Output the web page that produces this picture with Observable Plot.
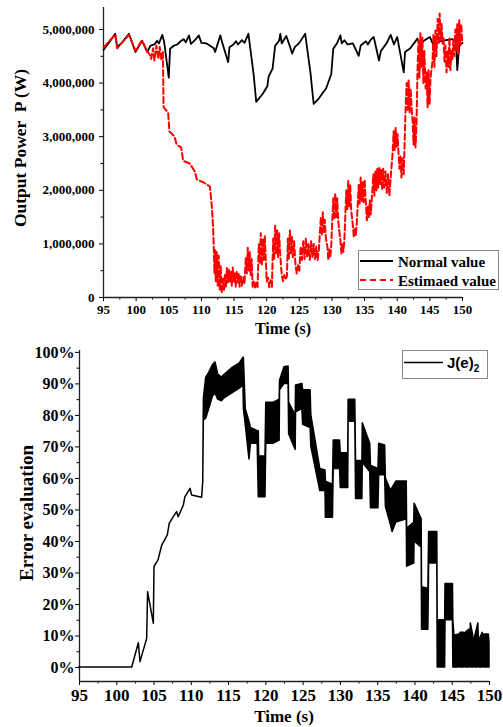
<!DOCTYPE html>
<html><head><meta charset="utf-8">
<script src="https://cdn.jsdelivr.net/npm/d3@7"></script>
<script src="https://cdn.jsdelivr.net/npm/@observablehq/plot@0.6"></script>
<style>
body{margin:0;background:#fff;width:503px;height:727px;overflow:hidden}
#chart svg{display:block}
</style></head><body><div id="chart"></div>
<script>
// ---- Top panel: output power (values in MW) ----
const normalT = [95.0,95.8,96.8,97.1,97.8,98.9,99.9,100.9,101.7,102.2,102.8,103.2,103.5,104.0,104.3,105.0,105.2,105.8,106.3,106.8,107.3,107.6,108.1,108.4,109.0,109.6,110.0,110.8,111.9,112.1,112.9,113.2,113.7,114.1,114.3,114.9,115.3,115.6,116.2,116.6,117.2,118.0,118.4,119.4,120.1,120.3,120.9,121.3,121.9,122.1,122.3,123.0,123.6,123.9,124.3,125.0,125.9,126.7,127.2,127.9,128.6,129.1,129.9,130.2,130.8,131.3,131.5,131.9,132.4,133.2,134.1,134.4,135.2,135.5,135.9,136.4,137.2,137.5,138.4,139.0,139.5,140.0,141.0,141.2,142.0,143.1,143.5,144.2,145.0,145.5,146.5,147.5,148.5,149.0,149.2,149.5,150.0];
const normalP = [4.62,4.75,4.92,4.67,4.75,4.92,4.58,4.79,4.58,4.7,4.72,4.79,4.74,4.9,4.76,4.1,4.64,4.7,4.72,4.78,4.82,4.76,4.89,4.73,4.8,4.89,4.75,4.74,4.65,4.58,4.89,4.75,4.55,4.39,4.67,4.72,4.78,4.72,4.8,4.75,4.92,4.16,3.65,3.8,3.94,4.12,4.27,4.7,4.79,4.92,4.74,4.88,4.67,4.55,4.67,4.75,4.92,4.2,3.61,3.7,3.82,3.9,4.17,4.64,4.75,4.89,4.74,4.8,4.72,4.74,4.51,4.7,4.78,4.72,4.8,4.86,4.42,4.6,4.75,4.9,4.72,4.86,4.2,4.58,4.65,4.83,4.72,4.8,4.86,4.72,4.78,4.8,4.82,4.76,4.24,4.7,4.75];

const estT = [95.0,96.0,96.8,97.1,98.9,99.9,100.9,101.7,102.0,102.3,102.6,102.8,103.1,103.4,103.6,103.9,104.1,104.2,104.9,105.1,105.9,106.2,106.9,107.2,108.2,109.0,109.3,110.3,111.3,111.6,111.8,
111.9,112.0,112.1,112.2,112.35,112.5,112.65,112.8,112.95,113.1,113.3,113.45,113.6,113.75,113.9,114.05,114.2,114.35,114.5,114.65,114.8,114.95,115.1,115.25,115.4,115.55,115.7,115.85,116.0,116.2,116.4,116.6,
116.8,116.95,117.1,117.25,117.4,117.55,117.7,117.85,118.0,118.2,118.4,118.6,118.8,118.95,119.1,119.25,119.4,119.55,119.7,119.85,120.0,120.2,120.4,120.6,120.8,
121.0,121.15,121.3,121.45,121.6,121.75,121.9,122.05,122.3,122.5,122.7,122.9,123.1,123.25,123.4,123.55,123.7,123.85,124.0,124.2,124.4,124.6,124.8,125.0,
125.2,125.4,125.6,125.8,126.0,126.2,126.4,126.6,126.8,127.0,127.2,127.4,127.6,127.8,128.0,128.3,128.45,128.6,128.75,128.9,129.05,129.3,129.45,129.6,129.75,129.9,
130.2,130.35,130.5,130.65,130.8,130.95,131.3,131.45,131.6,131.75,131.9,132.2,132.35,132.5,132.65,132.8,132.95,133.2,133.35,133.5,133.65,133.8,
134.1,134.25,134.4,134.55,134.7,134.85,135.0,135.2,135.35,135.5,135.65,135.8,135.95,136.2,136.35,136.5,136.65,136.8,136.95,137.1,137.25,137.4,137.55,137.7,137.85,138.0,138.2,138.4,138.6,138.8,139.0,
139.3,139.45,139.6,139.75,139.9,140.05,140.2,140.35,140.5,140.65,140.8,141.0,141.3,141.45,141.6,141.75,141.9,142.05,142.2,142.35,142.5,142.65,142.8,142.95,
143.1,143.25,143.4,143.55,143.7,143.85,144.0,144.15,144.35,144.5,144.65,144.8,144.95,145.1,145.4,145.55,145.7,145.85,146.0,146.2,146.35,146.5,146.65,146.8,146.95,
147.1,147.25,147.4,147.55,147.7,147.85,148.0,148.15,148.3,148.45,148.6,148.75,148.9,149.05,149.2,149.35,149.5,149.65,149.8,149.95];
const estP = [4.66,4.8,4.9,4.65,4.9,4.6,4.8,4.58,4.55,4.45,4.65,4.42,4.7,4.45,4.68,4.42,4.6,3.55,3.45,3.1,3.0,2.85,2.8,2.55,2.5,2.35,2.2,2.15,2.07,1.7,1.3,
0.9,0.45,0.88,0.3,0.85,0.22,0.78,0.15,0.6,0.08,0.35,0.12,0.42,0.2,0.55,0.28,0.52,0.3,0.48,0.22,0.56,0.3,0.45,0.2,0.5,0.28,0.44,0.2,0.42,0.22,0.38,0.25,
0.75,0.45,0.93,0.5,0.85,0.42,0.72,0.2,0.3,0.17,0.28,0.19,1.0,0.65,1.2,0.6,1.1,0.7,1.15,0.75,0.3,0.37,0.19,0.32,0.2,
1.1,0.7,1.34,0.8,1.25,0.75,1.2,0.85,0.43,0.3,0.42,0.33,0.4,1.1,0.7,1.25,0.8,1.15,0.75,1.05,0.63,0.45,0.6,0.5,
0.95,0.7,1.05,0.72,1.1,0.75,1.0,0.7,1.05,0.75,1.0,0.72,0.95,0.7,0.9,1.5,1.15,1.59,1.2,1.45,1.12,0.95,0.7,0.9,0.75,1.0,
1.85,1.45,1.94,1.5,1.85,1.44,1.05,0.82,1.0,0.85,1.06,2.0,1.65,2.18,1.7,2.1,1.62,1.35,1.12,1.3,1.15,1.38,
2.1,1.75,2.24,1.8,2.15,1.78,2.2,1.75,1.44,1.7,1.5,1.81,1.55,2.0,2.3,1.9,2.35,2.0,2.4,2.05,2.43,2.1,2.38,2.0,2.4,2.05,2.35,1.95,2.3,1.9,2.25,
2.7,3.1,2.75,3.17,2.8,3.05,2.69,2.4,2.65,2.24,2.6,2.3,3.6,4.0,3.5,4.05,3.45,3.9,3.55,3.3,2.85,3.36,2.8,3.2,
4.2,4.8,4.1,4.93,4.3,4.85,4.0,4.6,3.9,4.2,3.55,4.24,3.6,4.1,4.4,4.9,4.3,4.98,4.5,5.2,4.75,5.3,4.8,5.1,4.74,
4.85,4.4,4.7,4.2,4.6,4.3,4.85,4.24,4.6,4.45,4.8,4.5,5.0,4.6,5.1,4.55,5.17,4.7,5.1,4.8];

// ---- Bottom panel: J(e)2 error evaluation (%), low/high envelope ----
const errT = [95.0,102.07,102.96,103.18,104.08,104.2,104.97,105.06,105.6,106.1,106.85,107.1,107.65,108.1,108.3,109.0,109.2,109.9,110.1,111.45,111.6,
111.68,112.0,112.4,112.9,113.25,113.6,114.1,114.5,115.5,116.5,117.0,117.05,117.3,117.8,118.0,118.9,119.05,119.1,119.95,120.05,121.0,121.85,121.9,122.5,123.05,123.12,124.0,124.05,124.9,125.0,126.0,126.1,127.3,128.0,128.05,129.0,129.1,129.95,130.05,131.05,131.1,132.0,132.1,132.95,133.0,134.0,134.1,135.1,135.2,136.0,136.1,136.8,137.0,137.5,138.9,138.95,139.9,139.95,140.9,140.95,141.8,141.9,143.0,143.05,144.05,144.1,145.1,
145.15,145.3,145.9,146.0,146.1,146.6,146.7,146.8,147.3,147.4,147.5,147.9,148.0,148.1,148.5,148.6,148.7,149.1,149.2,149.3,149.9,150.0];
const errLo = [0,0,7.7,1.7,9.1,23.9,13.9,31.9,34,38.7,41.9,45.6,47.7,49.3,47.7,51.4,54,56.7,54.6,53.9,59,
78.4,79,82,86,87,85,84.5,85.5,87,88.5,89.5,82,77,66,71,71,54,54,54,71,71,72,88,90,90,74,69,81,82,77,76,70,56,56,47.5,47.5,63,63,57,57,78,78,53.5,53.5,65,62,50.5,50.5,61,61,51,45,43,46,47,32,33,40,38,12,12,33,33,0,0,15,15,
0,0,0,5,0,0,6,0,0,5,0,0,4,0,0,5,0,0,4,0,0,0];
const errHi = [0,0,7.7,1.7,9.1,23.9,13.9,31.9,34,38.7,41.9,45.6,47.7,49.3,47.7,51.4,54,56.7,54.6,53.9,59,
85.3,92,93.5,96,96.8,93,92,93,95,96.5,98.3,98.3,82,78,76,75,75,67,67,84,84,85,91,95.3,95.5,84,80,89.5,90,88,88,80,63,62.5,59,58,72,72,68,68,85,85,65.5,65.5,77.5,71,64,63,71,70.5,60,56,57,59,59,44,46,52,47,25.5,25,43,43,15,15,26.5,26.5,
15,10,10.5,7,11,11,8,11,12,7,14,9,6,10,14,7,9,11,6,10.5,10.5,8];

// ---- ticks ----
const timeTicks = [95,100,105,110,115,120,125,130,135,140,145,150];
const timeMinorTicks = [97.5,102.5,107.5,112.5,117.5,122.5,127.5,132.5,137.5,142.5,147.5];
const powerTicks = [0,1000000,2000000,3000000,4000000,5000000];
const powerMinorTicks = [500000,1500000,2500000,3500000,4500000];
const errTicks = [0,10,20,30,40,50,60,70,80,90,100];
const errMinorTicks = [5,15,25,35,45,55,65,75,85,95];

const normal = normalT.map((t, i) => ({t, p: normalP[i] * 1e6}));
const est = estT.map((t, i) => ({t, p: estP[i] * 1e6}));
const err = errT.map((t, i) => ({t, lo: errLo[i], hi: errHi[i]}));

const SERIF = "'Liberation Serif','Times New Roman',serif";
const SANS = "'Liberation Sans',Arial,sans-serif";

const topPlot = Plot.plot({
  width: 503, height: 340,
  marginLeft: 103, marginRight: 41, marginTop: 7, marginBottom: 43,
  x: {domain: [95, 150]},
  y: {domain: [0, 5410000]},
  style: {fontFamily: SERIF, fontSize: "13px", fontWeight: "bold", color: "#000", background: "#fff", overflow: "visible"},
  marks: [
    Plot.axisX({ticks: timeTicks, tickSize: 4, tickPadding: 3, label: null, tickFormat: d => String(d)}),
    Plot.axisX({ticks: timeMinorTicks, tickSize: 2.5, label: null, tickFormat: () => ""}),
    Plot.axisY({ticks: powerTicks, tickSize: 4, tickPadding: 5, label: null, tickFormat: d3.format(",")}),
    Plot.axisY({ticks: powerMinorTicks, tickSize: 2.5, label: null, tickFormat: () => ""}),
    Plot.ruleX([95], {stroke: "#222", strokeWidth: 1.3}),
    Plot.ruleY([0], {stroke: "#222", strokeWidth: 1.3}),
    Plot.line(normal, {x: "t", y: "p", stroke: "#000", strokeWidth: 1.8}),
    Plot.line(est, {x: "t", y: "p", stroke: "#ff0000", strokeWidth: 2, strokeDasharray: "6,3"})
  ]
});

const botPlot = Plot.plot({
  width: 503, height: 387,
  marginLeft: 79, marginRight: 14, marginTop: 10, marginBottom: 46,
  x: {domain: [95, 150]},
  y: {domain: [-4.44, 100.6]},
  style: {fontFamily: SERIF, fontSize: "16px", fontWeight: "bold", color: "#000", background: "#fff", overflow: "visible"},
  marks: [
    Plot.axisX({ticks: timeTicks, tickSize: 4, tickPadding: 3, label: null, tickFormat: d => String(d), fontSize: 17}),
    Plot.axisX({ticks: timeMinorTicks, tickSize: 2.5, label: null, tickFormat: () => ""}),
    Plot.axisY({ticks: errTicks, tickSize: 4, tickPadding: 1, label: null, tickFormat: d => d + "%"}),
    Plot.axisY({ticks: errMinorTicks, tickSize: 2.5, label: null, tickFormat: () => ""}),
    Plot.ruleX([95], {stroke: "#222", strokeWidth: 1.3}),
    Plot.ruleY([-4.44], {stroke: "#222", strokeWidth: 1.3}),
    Plot.areaY(err, {x: "t", y1: "lo", y2: "hi", fill: "#000", stroke: "#000", strokeWidth: 1.5})
  ]
});

const chart = document.getElementById("chart");
chart.appendChild(topPlot);
chart.appendChild(botPlot);

// ---- annotations: axis titles and legends ----
const ts = d3.select(topPlot);
ts.append("text").attr("transform", "translate(26,148) rotate(-90)")
  .attr("text-anchor", "middle").style("font", `bold 17.5px ${SERIF}`).attr("fill", "#000")
  .text("Output Power  P (W)");
ts.append("text").attr("x", 283).attr("y", 334).attr("text-anchor", "middle")
  .style("font", `bold 16px ${SERIF}`).attr("fill", "#000").text("Time (s)");
const tl = ts.append("g").attr("text-anchor", "start");
tl.append("rect").attr("x", 358.5).attr("y", 250.5).attr("width", 140).attr("height", 39)
  .attr("fill", "#fff").attr("stroke", "#888").attr("stroke-width", 1);
tl.append("line").attr("x1", 360).attr("x2", 393).attr("y1", 261).attr("y2", 261)
  .attr("stroke", "#000").attr("stroke-width", 1.8);
tl.append("line").attr("x1", 360).attr("x2", 393).attr("y1", 280).attr("y2", 280)
  .attr("stroke", "#ff0000").attr("stroke-width", 1.8).attr("stroke-dasharray", "6,4");
tl.append("text").attr("x", 398).attr("y", 266.5).attr("text-anchor", "start").style("font", `bold 15px ${SERIF}`).attr("fill", "#000").text("Normal value");
tl.append("text").attr("x", 398).attr("y", 285.5).attr("text-anchor", "start").style("font", `bold 15px ${SERIF}`).attr("fill", "#000").text("Estimaed value");

const bs = d3.select(botPlot);
bs.append("text").attr("transform", "translate(33,173) rotate(-90)")
  .attr("text-anchor", "middle").style("font", `bold 19px ${SERIF}`).attr("fill", "#000")
  .text("Error evaluation");
bs.append("text").attr("x", 284).attr("y", 382).attr("text-anchor", "middle")
  .style("font", `bold 17px ${SERIF}`).attr("fill", "#000").text("Time (s)");
const bl = bs.append("g").attr("text-anchor", "start");
bl.append("rect").attr("x", 402.5).attr("y", 10.5).attr("width", 85).attr("height", 28)
  .attr("fill", "#fff").attr("stroke", "#888").attr("stroke-width", 1);
bl.append("line").attr("x1", 404).attr("x2", 443).attr("y1", 22.5).attr("y2", 22.5)
  .attr("stroke", "#000").attr("stroke-width", 1.6);
const jt = bl.append("text").attr("x", 447).attr("y", 28).attr("text-anchor", "start").style("font", `bold 15px ${SANS}`).attr("fill", "#000");
jt.append("tspan").text("J(e)");
jt.append("tspan").attr("dy", 4).style("font-size", "10px").text("2");
</script>
</body></html>
